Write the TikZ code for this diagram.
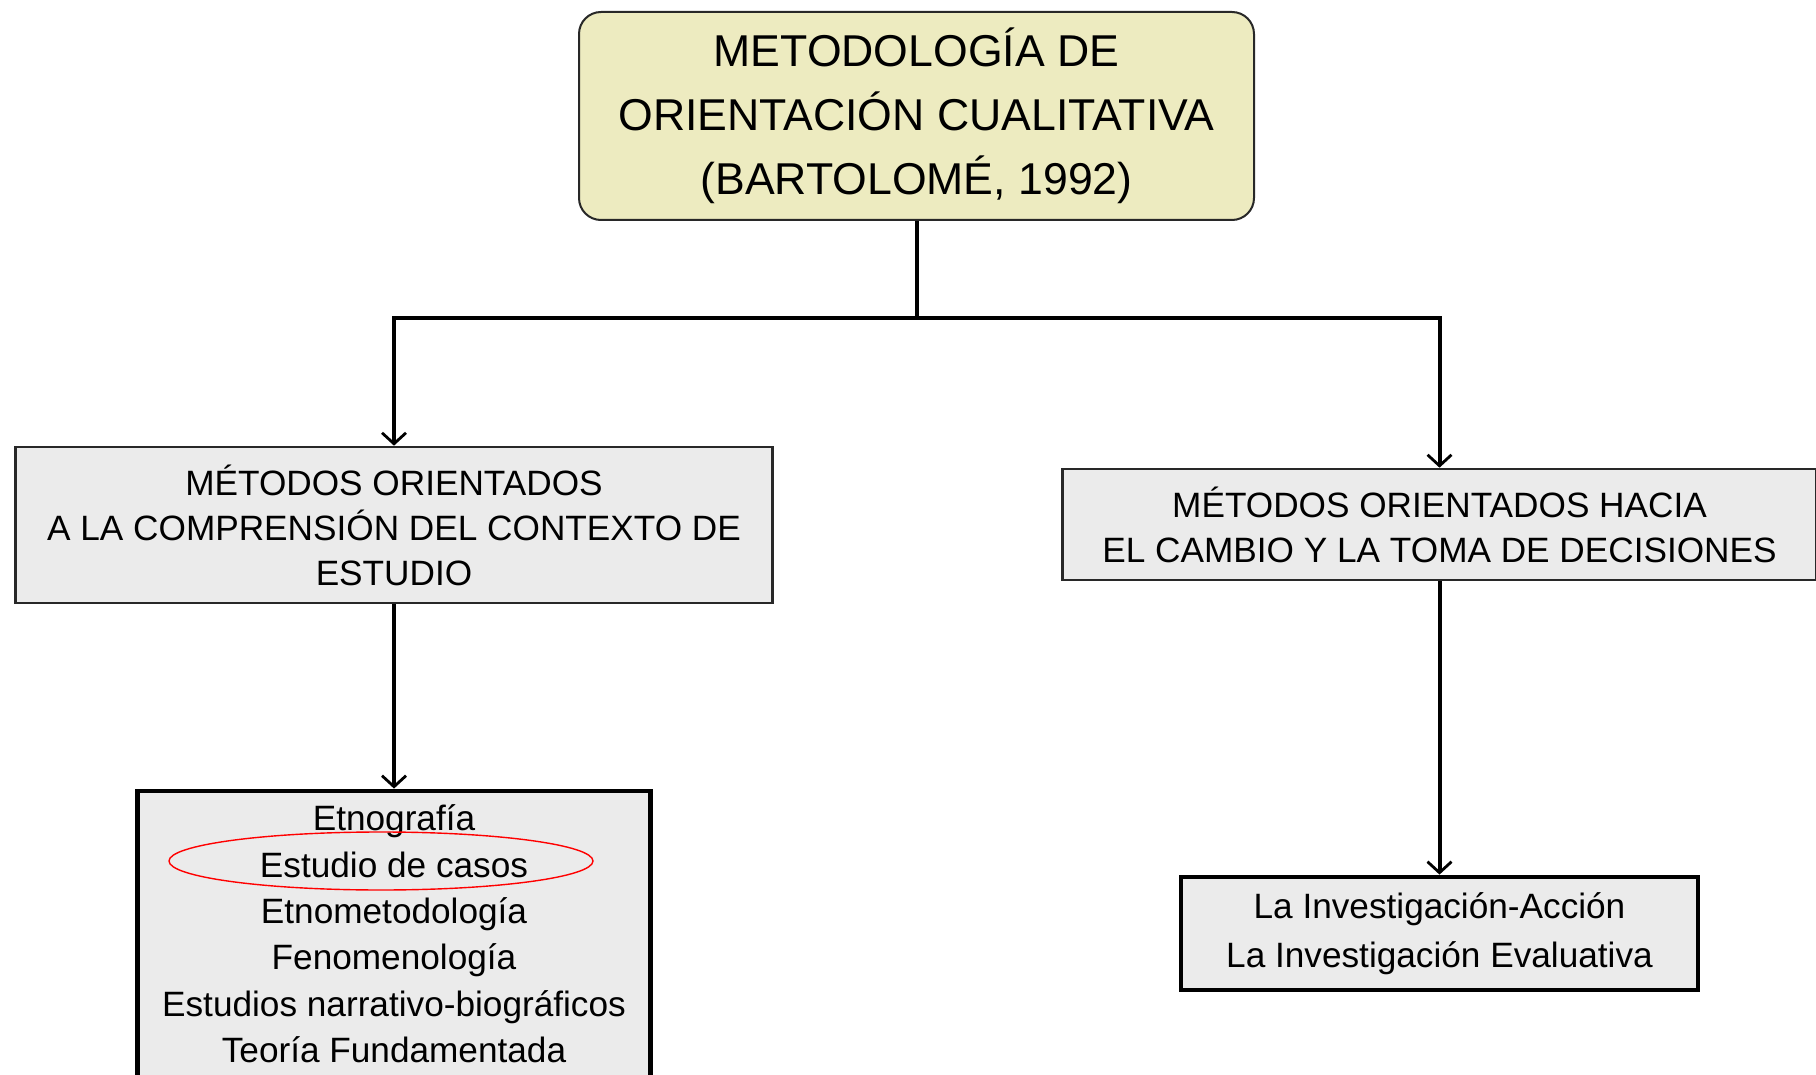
\documentclass[tikz,border=0pt]{standalone}
\usepackage{fontspec}
\setmainfont{Liberation Sans}
\usetikzlibrary{arrows.meta,shapes.geometric}
\definecolor{topfill}{RGB}{237,235,192}
\definecolor{boxfill}{RGB}{235,235,235}
\definecolor{edge}{RGB}{40,40,40}
\begin{document}
\begin{tikzpicture}[x=0.5pt,y=-0.5pt,
  conn/.style={line width=2pt, draw=black, -{Straight Barb[length=5.5pt,width=12pt,line width=1.4pt]}},
  topbox/.style={draw=edge, line width=1pt, fill=topfill, rounded corners=11pt, minimum width=337.5pt, minimum height=104pt, align=center, inner sep=0pt, font=\fontsize{22.3pt}{32pt}\selectfont},
  midbox/.style={draw=edge, line width=1.3pt, fill=boxfill, align=center, inner sep=0pt, font=\fontsize{17.6pt}{22.5pt}\selectfont},
  lowbox/.style={draw=black, line width=2.4pt, fill=boxfill, align=center, inner sep=0pt},
  lowtext/.style={align=center, inner sep=0pt}]
\useasboundingbox (0,0) rectangle (1816,1075);
\fill[white] (0,0) rectangle (1816,1075);
\clip (0,0) rectangle (1816,1075);
% top
\node[topbox] (top) at (916.5,116) {METODOLOGÍA DE\\ORIENTACIÓN CUALITATIVA\\(BARTOLOMÉ, 1992)};
% middle boxes
\node[midbox, minimum width=378.5pt, minimum height=78pt] (lb) at (394,525) {MÉTODOS ORIENTADOS\\A LA COMPRENSIÓN DEL CONTEXTO DE\\ESTUDIO};
\node[midbox, minimum width=377pt, minimum height=55.5pt] (rb) at (1439.5,524.5) {MÉTODOS ORIENTADOS HACIA\\EL CAMBIO Y LA TOMA DE DECISIONES};
% low boxes
\node[lowbox, minimum width=256.5pt, minimum height=166pt] (bl) at (394,957) {};
\node[lowtext, font=\fontsize{17.6pt}{23.2pt}\selectfont] (bltext) at (394,934) {Etnografía\\Estudio de casos\\Etnometodología\\Fenomenología\\Estudios narrativo-biográficos\\Teoría Fundamentada};
\node[lowbox, minimum width=258.5pt, minimum height=56.5pt, font=\fontsize{17.6pt}{24.3pt}\selectfont] (br) at (1439.5,933.5) {La Investigación-Acción\\La Investigación Evaluativa};
% highlight
\node[draw=red, line width=0.7pt, ellipse, minimum width=212pt, minimum height=29pt, inner sep=0pt] (hl) at (381,861) {};
% connectors
\coordinate (j) at (916.5,318);
\draw[line width=2pt] (top.south) -- (j);
\draw[conn] (j) -| (lb.north);
\draw[conn] (j) -| (rb.north);
\draw[conn] (lb.south) -- (bl.north);
\draw[conn] (rb.south) -- (br.north);
\end{tikzpicture}
\end{document}
